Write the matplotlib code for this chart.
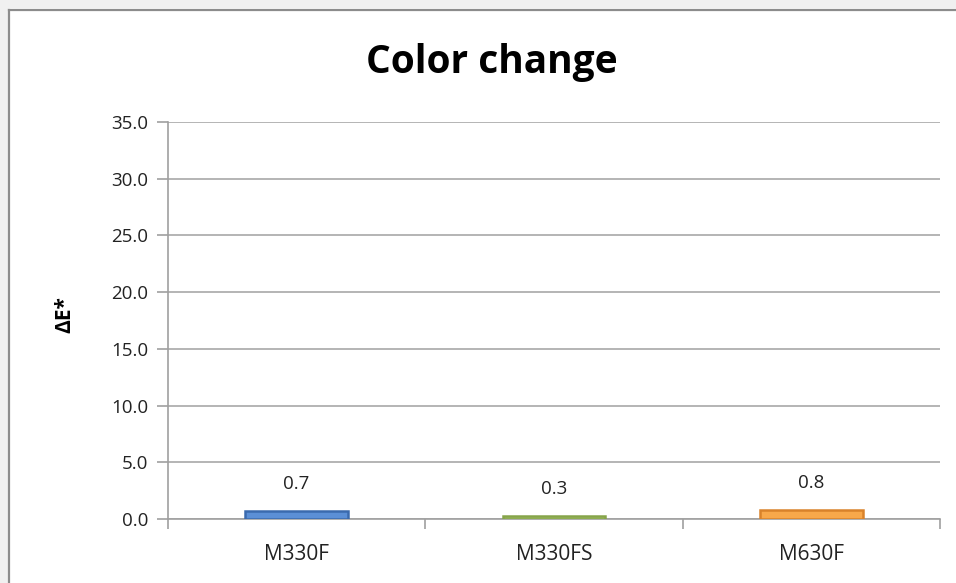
import matplotlib
matplotlib.use('Agg')
from matplotlib import pyplot as plt
from matplotlib.lines import Line2D
import numpy as np

categories = ['M330F', 'M330FS', 'M630F']
values = [0.7, 0.3, 0.8]
labels = ['0.7', '0.3', '0.8']
fills = ['#5b8fd6', '#a8c86a', '#f8a84a']
edges = ['#3a6aae', '#86a44a', '#d9822a']
yticks = [0, 5, 10, 15, 20, 25, 30, 35]

plt.rcParams['font.family'] = ['Open Sans', 'DejaVu Sans']

W, H = 956, 583
fig = plt.figure(figsize=(W / 100, H / 100), dpi=100)
fig.patch.set_facecolor('white')

# grey strip and frame lines round the chart area (top and left only are visible)
fig.add_artist(Line2D([0, 1], [1 - 4 / H, 1 - 4 / H], transform=fig.transFigure, color='#f0f0f0', lw=6))
fig.add_artist(Line2D([4 / W, 4 / W], [0, 1], transform=fig.transFigure, color='#f0f0f0', lw=6))
fig.add_artist(Line2D([8.5 / W, 1], [1 - 9.5 / H, 1 - 9.5 / H], transform=fig.transFigure, color='#8c8c8c', lw=1.6))
fig.add_artist(Line2D([8.5 / W, 8.5 / W], [0, 1 - 9.5 / H], transform=fig.transFigure, color='#8c8c8c', lw=1.6))

ax = fig.add_axes([168 / W, 1 - 519 / H, (940 - 168) / W, (519 - 122) / H])
ax.set_facecolor('white')

x = np.arange(len(categories))
ax.bar(x, values, width=0.4, color=fills, edgecolor=edges, linewidth=1.8, zorder=3)
for xi, v, lab in zip(x, values, labels):
    ax.annotate(lab, (xi, v), xytext=(0, 13), textcoords='offset points',
                ha='center', va='bottom', fontsize=13.5, color='#222222')

ax.set_xlim(-0.5, 2.5)
ax.set_ylim(0, 35)
ax.set_yticks(yticks)
ax.set_yticklabels(['%.1f' % t for t in yticks])
ax.set_xticks(x)
ax.set_xticklabels(categories)
ax.set_xticks([-0.5, 0.5, 1.5, 2.5], minor=True)
ax.tick_params(axis='x', which='major', length=0, pad=18, labelsize=15, colors='#222222')
ax.tick_params(axis='x', which='minor', length=7, width=1.2, color='#a0a0a0')
ax.tick_params(axis='y', length=8, width=1.2, color='#a0a0a0', labelsize=13.5, labelcolor='#222222', pad=6)
ax.yaxis.grid(True, color='#a0a0a0', linewidth=1.1)
ax.set_axisbelow(True)
for s in ['top', 'right']:
    ax.spines[s].set_visible(False)
for s in ['left', 'bottom']:
    ax.spines[s].set_color('#a0a0a0')
    ax.spines[s].set_linewidth(1.2)

ax.set_ylabel('ΔE*', fontsize=15, fontweight='bold')
ax.yaxis.set_label_coords(-0.12, 0.515)
fig.text(492 / W, 1 - 63 / H, 'Color change', ha='center', va='center',
         fontsize=28, fontweight='bold')

fig.savefig('out.png', dpi=100)
